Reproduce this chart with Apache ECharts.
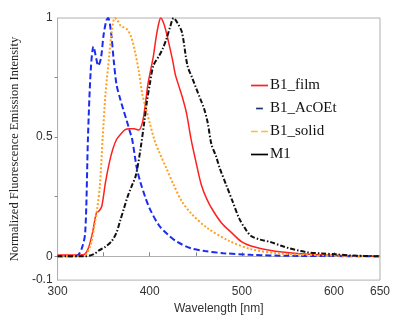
<!DOCTYPE html>
<html>
<head>
<meta charset="utf-8">
<script src="https://cdn.jsdelivr.net/npm/echarts@6/dist/echarts.min.js"></script>
<style>
  html, body { margin: 0; padding: 0; background: #fff; }
  #chart { width: 393px; height: 320px; }
</style>
</head>
<body>
<div id="chart"></div>
<script>
// emission spectra (wavelength nm / normalized intensity)
const filmX = [300, 325, 330, 334, 338, 342, 345, 348, 352, 356, 360, 364, 368, 373, 378, 383, 388, 392, 395, 398, 401, 404, 407, 410, 412, 415, 418, 421, 425, 428, 432, 436, 440, 445, 450, 456, 462, 469, 478, 490, 500, 510, 530, 560, 600, 650]
const filmY = [0.005, 0.005, 0.01, 0.04, 0.1, 0.18, 0.19, 0.21, 0.31, 0.39, 0.45, 0.49, 0.51, 0.53, 0.535, 0.535, 0.53, 0.56, 0.63, 0.72, 0.78, 0.84, 0.92, 0.98, 1.0, 0.98, 0.94, 0.89, 0.82, 0.76, 0.71, 0.66, 0.6, 0.49, 0.4, 0.3, 0.24, 0.19, 0.14, 0.095, 0.06, 0.043, 0.025, 0.012, 0.004, 0]

const acoetX = [300, 320, 326, 330, 333, 336, 339, 342, 344, 347, 350, 353, 355, 358, 361, 364, 368, 371, 375, 378, 381, 386, 390, 395, 400, 410, 420, 430, 445, 460, 480, 510, 550, 650]
const acoetY = [0, 0, 0.03, 0.1, 0.5, 0.78, 0.88, 0.83, 0.8, 0.83, 0.93, 0.99, 1.0, 0.94, 0.82, 0.72, 0.66, 0.62, 0.57, 0.53, 0.49, 0.37, 0.31, 0.25, 0.2, 0.13, 0.09, 0.06, 0.033, 0.022, 0.013, 0.006, 0.002, 0]

const solidX = [300, 320, 330, 336, 340, 343, 346, 349, 352, 356, 359, 362, 365, 368, 372, 376, 380, 384, 388, 392, 396, 400, 405, 410, 418, 426, 435, 445, 462, 486, 510, 540, 600, 650]
const solidY = [0, 0, 0.005, 0.05, 0.13, 0.2, 0.3, 0.5, 0.68, 0.84, 0.95, 1.0, 0.99, 0.97, 0.96, 0.95, 0.92, 0.86, 0.78, 0.68, 0.62, 0.56, 0.49, 0.44, 0.37, 0.3, 0.23, 0.18, 0.12, 0.065, 0.03, 0.012, 0.003, 0]

const m1X = [300, 330, 340, 345, 352, 359, 364, 368, 372, 376, 380, 385, 390, 394, 397, 400, 404, 410, 414, 418, 422, 426, 430, 435, 441, 446, 450, 455, 459, 463, 467, 472, 476, 483, 490, 497, 503, 510, 520, 531, 542, 552, 562, 572, 587, 603, 620, 650]
const m1Y = [0, 0, 0.01, 0.025, 0.04, 0.065, 0.1, 0.15, 0.2, 0.25, 0.29, 0.34, 0.45, 0.56, 0.65, 0.72, 0.8, 0.84, 0.87, 0.91, 0.96, 1.0, 0.98, 0.94, 0.8, 0.75, 0.71, 0.66, 0.62, 0.56, 0.47, 0.42, 0.37, 0.3, 0.23, 0.16, 0.12, 0.085, 0.07, 0.06, 0.045, 0.033, 0.024, 0.016, 0.012, 0.008, 0.003, 0]

const xLabels = [300, 400, 500, 600, 650]
const xTicks = [350, 400, 450, 500, 550, 600]
const yLabels = [-0.1, 0, 0.5, 1]
const yTicks = [0, 0.25, 0.5, 0.75]

const zip = (xs, ys) => xs.map((x, i) => [x, ys[i]])

const AXIS_GREY = '#b0b0b0'
const SANS = 'Liberation Sans, Arial, sans-serif'
const SERIF = 'Liberation Serif, Times New Roman, serif'

const chart = echarts.init(document.getElementById('chart'))

function line(name, xs, ys, color, type, width) {
  return {
    name,
    type: 'line',
    data: zip(xs, ys),
    smooth: 0.3,
    symbol: 'none',
    lineStyle: { color, type, width },
    itemStyle: { color },
    z: 3,
  }
}

chart.setOption({
  animation: false,
  backgroundColor: '#fff',
  grid: { left: 46, right: 7, top: 18, bottom: 33, show: true, borderColor: AXIS_GREY, borderWidth: 1 },
  legend: {
    orient: 'vertical',
    left: 246,
    top: 72,
    itemGap: 6,
    itemWidth: 17,
    itemHeight: 2,
    textStyle: { fontFamily: SERIF, fontSize: 15, color: '#111', padding: [0, 0, 0, -3], lineHeight: 17 },
    data: [
      { name: 'B1_film', icon: 'path://M0,0H10V1H0Z', itemStyle: { color: '#ff2020' } },
      { name: 'B1_AcOEt', icon: 'path://M0,0L0,0M3,0H7V1H3ZM10,1L10,1', itemStyle: { color: '#1d3570' } },
      { name: 'B1_solid', icon: 'path://M0,0H4V1H0ZM6,0H10V1H6Z', itemStyle: { color: '#ffc020' } },
      { name: 'M1', icon: 'path://M0,0H10V1H0Z', itemStyle: { color: '#000' } },
    ],
  },
  xAxis: {
    type: 'value',
    min: 300,
    max: 650,
    interval: 50,
    name: 'Wavelength [nm]',
    nameLocation: 'middle',
    nameGap: 22,
    nameTextStyle: { fontFamily: SANS, fontSize: 12, color: '#333' },
    axisLine: { lineStyle: { color: AXIS_GREY } },
    axisTick: { inside: true, length: 4, customValues: xTicks, lineStyle: { color: '#888' } },
    axisLabel: { customValues: xLabels, fontFamily: SANS, fontSize: 12, color: '#333', margin: 6 },
    splitLine: { show: false },
  },
  yAxis: {
    type: 'value',
    min: -0.1,
    max: 1,
    name: 'Normalized Fluorescence Emission Intensity',
    nameLocation: 'middle',
    nameGap: 23,
    nameTextStyle: { fontFamily: SERIF, fontSize: 12.5, color: '#222' },
    axisLine: { show: true, lineStyle: { color: AXIS_GREY } },
    axisTick: { show: true, length: 3, customValues: yTicks, lineStyle: { color: '#888' } },
    axisLabel: {
      customValues: yLabels,
      fontFamily: SANS,
      fontSize: 12,
      color: '#333',
      margin: 5,
      formatter: (v) => String(Math.round(v * 10) / 10),
    },
    splitLine: { show: false },
  },
  series: [
    line('B1_film', filmX, filmY, '#ff2020', 'solid', 1.5),
    line('B1_AcOEt', acoetX, acoetY, '#1a2cf0', [6, 3], 2),
    line('B1_solid', solidX, solidY, '#ffa020', [2, 2], 2),
    line('M1', m1X, m1Y, '#111', [5, 2, 1.5, 2], 2),
  ],
})
</script>
</body>
</html>
